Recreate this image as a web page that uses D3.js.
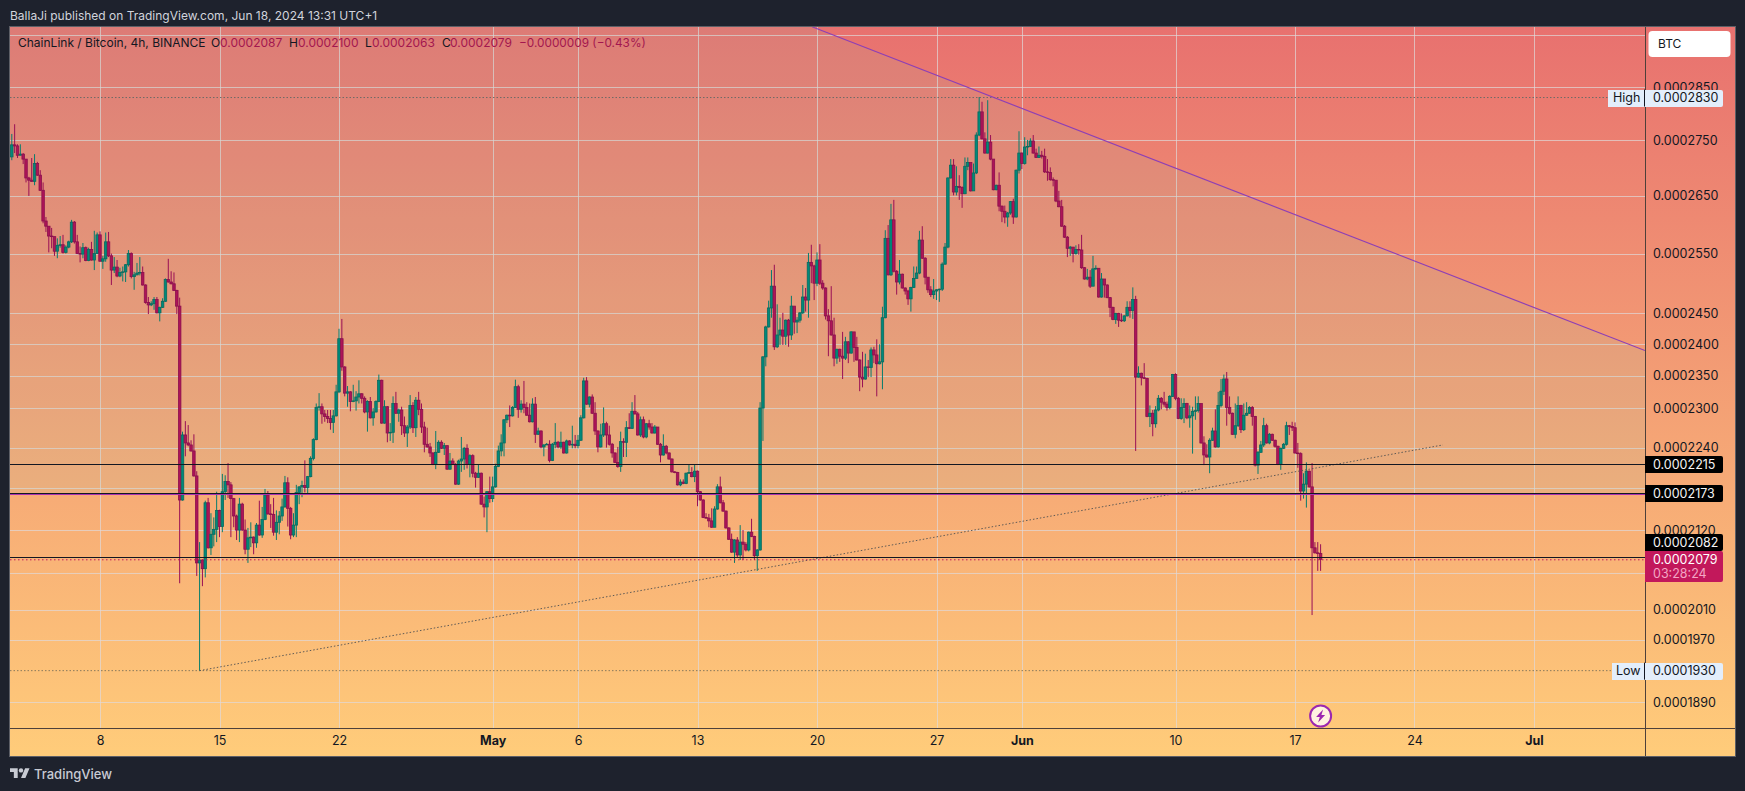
<!DOCTYPE html>
<html>
<head>
<meta charset="utf-8">
<script src="https://cdn.jsdelivr.net/npm/d3@7"></script>
<style>
  html, body { margin: 0; padding: 0; background: #1e222d; overflow: hidden; }
  text { font-family: Inter, "Noto Sans", sans-serif; }
</style>
</head>
<body>
<script>
// all prices in units of 0.0000001, 4h candles starting Apr 2 20:00 UTC
const firstOpen = 2720;

const closes = [
2742,2740,2723,2725,2716,2682,2678,2676,2708,2687,
2660,2606,2597,2580,2579,2554,2564,2565,2552,2561,
2570,2604,2570,2550,2549,2560,2538,2557,2539,2550,
2582,2537,2541,2570,2546,2522,2527,2512,2518,2519,
2531,2550,2511,2514,2517,2518,2497,2468,2464,2466,
2473,2451,2460,2470,2506,2502,2499,2488,2462,2163,
2259,2247,2244,2235,2198,2074,2078,2066,2159,2095,
2114,2121,2148,2125,2175,2190,2185,2165,2140,2120,
2157,2120,2093,2109,2110,2102,2127,2113,2135,2170,
2143,2142,2117,2131,2140,2153,2188,2151,2113,2127,
2174,2182,2184,2181,2197,2224,2252,2301,2302,2291,
2287,2284,2278,2288,2325,2409,2364,2323,2325,2310,
2311,2317,2322,2315,2294,2310,2285,2294,2310,2343,
2277,2302,2262,2263,2307,2292,2297,2273,2262,2271,
2304,2270,2312,2298,2271,2245,2241,2232,2215,2233,
2248,2239,2243,2208,2220,2215,2186,2220,2223,2239,
2215,2228,2202,2196,2202,2157,2153,2175,2165,2182,
2212,2235,2247,2282,2289,2288,2301,2333,2298,2306,
2301,2289,2279,2306,2260,2265,2241,2244,2245,2221,
2245,2248,2241,2248,2232,2250,2244,2245,2243,2251,
2285,2342,2306,2317,2292,2265,2241,2259,2276,2259,
2245,2232,2218,2212,2249,2248,2270,2269,2295,2291,
2259,2282,2256,2276,2271,2262,2271,2245,2229,2242,
2232,2223,2204,2203,2185,2189,2187,2202,2203,2197,
2205,2175,2163,2138,2137,2133,2124,2150,2182,2159,
2147,2123,2107,2089,2106,2085,2103,2100,2092,2117,
2111,2084,2092,2300,2380,2428,2459,2495,2396,2415,
2423,2413,2439,2415,2462,2436,2439,2451,2477,2472,
2535,2529,2500,2539,2500,2492,2446,2438,2415,2378,
2392,2381,2378,2404,2386,2420,2395,2375,2348,2345,
2364,2363,2391,2383,2369,2372,2443,2576,2514,2608,
2520,2502,2515,2492,2487,2474,2493,2508,2517,2573,
2542,2510,2489,2481,2487,2489,2490,2532,2561,2682,
2705,2657,2667,2665,2654,2703,2710,2659,2691,2760,
2803,2753,2727,2747,2716,2661,2669,2632,2623,2613,
2620,2640,2613,2696,2727,2708,2738,2739,2749,2727,
2719,2723,2721,2693,2692,2679,2678,2641,2631,2597,
2578,2559,2561,2550,2557,2556,2526,2507,2510,2495,
2524,2525,2477,2507,2497,2476,2460,2440,2450,2439,
2438,2446,2460,2455,2473,2348,2354,2347,2346,2287,
2292,2276,2297,2315,2309,2306,2301,2318,2352,2315,
2284,2301,2307,2285,2288,2295,2296,2307,2247,2229,
2226,2251,2265,2241,2304,2326,2345,2301,2292,2260,
2273,2304,2267,2289,2292,2301,2287,2214,2233,2244,
2273,2247,2260,2251,2242,2215,2239,2245,2273,2272,
2270,2232,2231,2176,2186,2205,2182,2095,2088,2087,2079];

const highs = [
2762,2780,2743,2743,2727,2716,2684,2718,2725,2711,
2696,2674,2613,2597,2594,2578,2576,2580,2582,2564,
2572,2608,2606,2582,2562,2568,2562,2560,2570,2589,
2586,2588,2546,2586,2587,2550,2544,2539,2526,2528,
2532,2556,2552,2519,2534,2544,2528,2498,2477,2470,
2477,2477,2461,2475,2508,2541,2520,2518,2489,2476,
2264,2280,2274,2251,2260,2205,2103,2079,2162,2166,
2144,2138,2175,2149,2201,2199,2217,2189,2166,2142,
2166,2159,2135,2123,2131,2111,2130,2162,2153,2179,
2176,2157,2166,2148,2147,2165,2198,2196,2153,2144,
2185,2183,2191,2221,2198,2227,2254,2307,2323,2307,
2297,2297,2297,2297,2336,2425,2441,2365,2334,2326,
2336,2326,2343,2323,2318,2312,2317,2300,2312,2352,
2344,2312,2303,2277,2318,2325,2299,2302,2287,2274,
2320,2309,2317,2325,2307,2279,2270,2247,2233,2265,
2251,2251,2247,2243,2232,2224,2217,2222,2256,2241,
2245,2230,2230,2204,2215,2203,2168,2176,2197,2197,
2216,2243,2260,2283,2290,2304,2303,2344,2336,2312,
2342,2309,2307,2315,2317,2270,2266,2245,2247,2251,
2247,2277,2250,2264,2249,2252,2251,2273,2259,2259,
2289,2347,2348,2318,2321,2309,2266,2276,2301,2279,
2273,2247,2233,2241,2264,2254,2280,2292,2309,2320,
2294,2287,2287,2277,2282,2277,2274,2271,2247,2260,
2244,2233,2224,2205,2204,2193,2193,2203,2215,2211,
2215,2206,2176,2164,2144,2143,2151,2154,2186,2197,
2163,2148,2124,2115,2107,2110,2127,2120,2103,2118,
2136,2112,2093,2309,2381,2430,2471,2522,2531,2465,
2443,2451,2440,2441,2479,2461,2444,2452,2497,2492,
2551,2565,2531,2552,2566,2505,2493,2457,2495,2443,
2393,2393,2420,2412,2405,2421,2411,2412,2376,2388,
2385,2375,2395,2396,2408,2400,2461,2590,2599,2636,
2643,2522,2539,2516,2493,2489,2494,2528,2528,2589,
2597,2544,2508,2495,2507,2490,2491,2535,2568,2683,
2716,2716,2703,2687,2667,2719,2719,2708,2708,2765,
2831,2822,2765,2825,2760,2715,2670,2692,2633,2633,
2622,2641,2645,2697,2767,2728,2756,2751,2754,2760,
2735,2739,2731,2735,2716,2701,2683,2676,2659,2643,
2599,2580,2563,2561,2564,2566,2582,2527,2524,2522,
2546,2530,2525,2517,2507,2498,2477,2461,2451,2451,
2450,2447,2470,2470,2493,2479,2365,2355,2370,2347,
2304,2297,2303,2320,2317,2325,2310,2320,2353,2354,
2317,2315,2315,2308,2304,2302,2318,2318,2306,2257,
2245,2254,2270,2298,2325,2345,2352,2356,2318,2293,
2307,2318,2305,2307,2309,2303,2303,2288,2235,2250,
2285,2276,2262,2261,2252,2243,2240,2247,2279,2274,
2279,2278,2247,2233,2202,2218,2206,2217,2103,2103,2100];

const lows = [
2714,2727,2718,2723,2707,2674,2650,2675,2669,2686,
2659,2602,2587,2552,2559,2546,2542,2560,2550,2550,
2559,2568,2567,2549,2535,2542,2537,2537,2538,2522,
2549,2536,2524,2536,2544,2497,2517,2510,2510,2503,
2502,2528,2508,2489,2513,2513,2496,2466,2449,2462,
2456,2450,2437,2459,2469,2501,2498,2487,2449,2046,
2162,2227,2242,2234,2197,2056,1930,2042,2054,2094,
2085,2097,2103,2110,2117,2163,2166,2110,2124,2106,
2103,2119,2086,2074,2096,2086,2095,2112,2109,2134,
2142,2123,2112,2106,2114,2133,2152,2125,2107,2110,
2110,2157,2167,2174,2172,2196,2221,2251,2296,2276,
2279,2277,2267,2262,2287,2323,2358,2318,2302,2295,
2309,2296,2307,2307,2292,2264,2284,2273,2293,2309,
2276,2276,2248,2250,2247,2291,2279,2259,2256,2241,
2268,2262,2256,2289,2262,2233,2240,2226,2214,2208,
2232,2238,2229,2207,2207,2214,2185,2185,2204,2207,
2209,2196,2196,2181,2195,2156,2138,2117,2159,2160,
2181,2211,2227,2227,2277,2271,2287,2300,2285,2293,
2292,2288,2278,2278,2247,2259,2239,2227,2244,2218,
2220,2239,2239,2238,2231,2231,2243,2239,2239,2239,
2250,2284,2305,2301,2291,2259,2233,2240,2256,2240,
2243,2225,2217,2210,2204,2226,2226,2268,2268,2290,
2258,2256,2254,2254,2267,2261,2261,2244,2218,2228,
2230,2222,2203,2202,2184,2183,2186,2186,2201,2196,
2189,2154,2162,2137,2136,2124,2123,2124,2149,2158,
2146,2122,2106,2088,2074,2082,2078,2078,2090,2090,
2110,2078,2063,2091,2250,2365,2427,2443,2391,2394,
2399,2399,2399,2396,2407,2417,2418,2435,2449,2453,
2443,2500,2472,2495,2497,2489,2440,2381,2414,2365,
2369,2372,2345,2375,2370,2385,2372,2374,2326,2332,
2344,2348,2348,2370,2318,2368,2329,2442,2513,2512,
2518,2481,2498,2491,2481,2464,2453,2492,2510,2515,
2541,2498,2484,2477,2474,2472,2469,2487,2531,2559,
2681,2651,2651,2643,2629,2653,2696,2658,2660,2689,
2758,2752,2726,2726,2714,2660,2660,2623,2604,2602,
2596,2617,2601,2612,2690,2698,2706,2723,2738,2726,
2718,2718,2717,2691,2677,2677,2667,2639,2630,2596,
2577,2544,2546,2535,2548,2548,2524,2506,2505,2492,
2495,2522,2476,2476,2476,2475,2444,2439,2433,2428,
2436,2436,2445,2443,2441,2235,2347,2335,2345,2286,
2271,2257,2270,2295,2298,2302,2296,2298,2317,2312,
2283,2282,2277,2283,2270,2231,2282,2293,2246,2214,
2225,2202,2250,2240,2240,2301,2320,2273,2290,2259,
2254,2271,2262,2265,2288,2291,2273,2212,2201,2232,
2241,2246,2245,2250,2240,2214,2207,2238,2243,2259,
2265,2231,2210,2162,2165,2152,2181,2003,2087,2063,2063];

// axis ticks, some grid lines have their label covered by a tag in the picture
const gridPrices = [2950,2850,2750,2650,2550,2450,2400,2350,2300,2240,2180,2120,2060,2010,1970,1890];
const priceTicks = [2850,2750,2650,2550,2450,2400,2350,2300,2240,2120,2010,1970,1890];
const dateTicks = ["2024-04-08","2024-04-15","2024-04-22","2024-05-01","2024-05-06","2024-05-13","2024-05-20","2024-05-27","2024-06-01","2024-06-10","2024-06-17","2024-06-24","2024-07-01"];
const dateLabels = ["8","15","22","May","6","13","20","27","Jun","10","17","24","Jul"];
const monthLabels = ["May","Jun","Jul"];

// drawings on the chart
const levelPrices = [2215,2173,2082];
const lastPrice = 2079;
const highPrice = 2830;
const lowPrice = 1930;
const resistanceDates = ["2024-05-19T17:00Z","2024-07-07T12:00Z"];
const resistancePrices = [2967,2390];
const supportDates = ["2024-04-13T20:00Z","2024-06-25T16:00Z"];
const supportPrices = [1930,2244];

const fmt = function(p) { return (p * 1e-7).toFixed(7); };
const startTime = Date.UTC(2024, 3, 2, 20);
const fourHours = 4 * 3600 * 1000;

// frame of the chart
const W = 1745, H = 791;
const left = 10, right = 1735, top_ = 27, bottom = 756;
const paneRight = 1645, paneBottom = 728;

const svg = d3.select("body").append("svg")
    .attr("width", W)
    .attr("height", H)
    .style("display", "block");

const defs = svg.append("defs");
const grad = defs.append("linearGradient")
    .attr("id", "bg")
    .attr("gradientUnits", "userSpaceOnUse")
    .attr("x1", 0).attr("x2", 0)
    .attr("y1", top_).attr("y2", bottom);
grad.append("stop").attr("offset", 0).attr("stop-color", "#e8716f");
grad.append("stop").attr("offset", 1).attr("stop-color", "#ffcc7a");

defs.append("clipPath").attr("id", "pane")
  .append("rect")
    .attr("x", left).attr("y", top_)
    .attr("width", paneRight - left).attr("height", paneBottom - top_);

// scales, the price axis is logarithmic
const x = d3.scaleUtc()
    .domain([new Date("2024-04-08"), new Date("2024-07-01")])
    .range([100, 1534]);
const y = d3.scaleLog()
    .domain([2850, 1890])
    .range([87, 702]);

svg.append("rect")
    .attr("x", left).attr("y", top_)
    .attr("width", right - left).attr("height", bottom - top_)
    .attr("fill", "url(#bg)");

const pane = svg.append("g").attr("clip-path", "url(#pane)");

// grid
pane.selectAll(".hgrid").data(gridPrices).enter().append("line")
    .attr("x1", left).attr("x2", paneRight)
    .attr("y1", d => Math.round(y(d)) + 0.5).attr("y2", d => Math.round(y(d)) + 0.5)
    .attr("stroke", "#e0d8d8").attr("stroke-opacity", 0.7).attr("stroke-width", 1);
pane.selectAll(".vgrid").data(dateTicks).enter().append("line")
    .attr("x1", d => Math.round(x(new Date(d))) + 0.5).attr("x2", d => Math.round(x(new Date(d))) + 0.5)
    .attr("y1", top_).attr("y2", paneBottom)
    .attr("stroke", "#e0d8d8").attr("stroke-opacity", 0.7).attr("stroke-width", 1);

// tinted band between the falling line and the horizontal level
const band = d3.area()
    .x(d => x(new Date(d.date)))
    .y0(y(2173) + 1)
    .y1(d => y(d.price));
const bandData = [
    {date: "2024-04-01", price: 2967},
    {date: resistanceDates[0], price: resistancePrices[0]},
    {date: resistanceDates[1], price: resistancePrices[1]}
];
pane.append("path")
    .attr("d", band(bandData))
    .attr("fill", "rgb(130,214,190)")
    .attr("fill-opacity", 0.1);

// dotted high / low lines
pane.append("line")
    .attr("x1", left).attr("x2", 1608)
    .attr("y1", y(highPrice)).attr("y2", y(highPrice))
    .attr("stroke", "#6f6a66").attr("stroke-dasharray", "1.5 2");
pane.append("line")
    .attr("x1", left).attr("x2", 1612)
    .attr("y1", y(lowPrice)).attr("y2", y(lowPrice))
    .attr("stroke", "#8a7a5c").attr("stroke-dasharray", "1.5 2");

// candles
const candles = closes.map(function(c, i) {
    return {
        t: new Date(startTime + i * fourHours),
        o: i === 0 ? firstOpen : closes[i - 1],
        h: highs[i],
        l: lows[i],
        c: c
    };
});
const up = d => d.c >= d.o;

pane.selectAll(".wick").data(candles).enter().append("line")
    .attr("x1", d => x(d.t)).attr("x2", d => x(d.t))
    .attr("y1", d => y(d.h)).attr("y2", d => y(d.l))
    .attr("stroke", d => up(d) ? "#067d6d" : "#990f55")
    .attr("stroke-width", 1);

pane.selectAll(".body").data(candles).enter().append("rect")
    .attr("x", d => x(d.t) - 1.25)
    .attr("width", 2.5)
    .attr("y", d => Math.min(y(d.o), y(d.c)))
    .attr("height", d => Math.max(Math.abs(y(d.o) - y(d.c)), 0.6))
    .attr("fill", d => up(d) ? "#00897b" : "#ad1457")
    .attr("stroke", d => up(d) ? "#0a6a5e" : "#8a0f4e")
    .attr("stroke-width", 0.8);

// trend lines
pane.append("line")
    .attr("x1", x(new Date(resistanceDates[0]))).attr("y1", y(resistancePrices[0]))
    .attr("x2", x(new Date(resistanceDates[1]))).attr("y2", y(resistancePrices[1]))
    .attr("stroke", "#8e3fb5").attr("stroke-width", 1.1);
pane.append("line")
    .attr("x1", x(new Date(supportDates[0]))).attr("y1", y(supportPrices[0]))
    .attr("x2", x(new Date(supportDates[1]))).attr("y2", y(supportPrices[1]))
    .attr("stroke", "#5f5a55").attr("stroke-width", 1).attr("stroke-dasharray", "1.5 2");

// horizontal levels
pane.append("line")
    .attr("x1", left).attr("x2", paneRight)
    .attr("y1", Math.round(y(2173)) + 1.5).attr("y2", Math.round(y(2173)) + 1.5)
    .attr("stroke", "#a832b0").attr("stroke-width", 1.2);
pane.selectAll(".level").data(levelPrices).enter().append("line")
    .attr("x1", left).attr("x2", paneRight)
    .attr("y1", d => Math.round(y(d)) + 0.5).attr("y2", d => Math.round(y(d)) + 0.5)
    .attr("stroke", "#131722").attr("stroke-width", 1);
pane.append("line")
    .attr("x1", left).attr("x2", paneRight)
    .attr("y1", y(lastPrice) + 0.5).attr("y2", y(lastPrice) + 0.5)
    .attr("stroke", "#c2185b").attr("stroke-dasharray", "1.5 2.5");

// lightning marker under the last candles
const marker = pane.append("g")
    .attr("transform", "translate(" + x(candles[candles.length - 1].t) + ",716)");
marker.append("circle").attr("r", 10.5)
    .attr("fill", "#fff3e0").attr("stroke", "#9c27b0").attr("stroke-width", 2);
marker.append("path")
    .attr("d", "M2.5 -6.5 L-4.5 1 L-0.8 1 L-2.5 6.5 L4.5 -1 L0.8 -1 Z")
    .attr("fill", "#9c27b0");

// price axis
const yAxis = svg.append("g")
    .attr("transform", "translate(" + paneRight + ",0)")
    .call(d3.axisRight(y).tickValues(priceTicks).tickFormat(fmt).tickSize(0).tickPadding(8));
yAxis.select(".domain").remove();
yAxis.selectAll("text")
    .attr("font-size", 12.5)
    .attr("font-family", "Inter")
    .attr("fill", "#131722");

// time axis
const xAxis = svg.append("g")
    .attr("transform", "translate(0," + paneBottom + ")")
    .call(d3.axisBottom(x)
        .tickValues(dateTicks.map(d => new Date(d)))
        .tickFormat((d, i) => dateLabels[i])
        .tickSize(0).tickPadding(8));
xAxis.select(".domain").remove();
xAxis.selectAll("text")
    .attr("font-size", 12.5)
    .attr("font-family", "Inter")
    .attr("fill", "#131722")
    .attr("font-weight", (d, i) => monthLabels.indexOf(dateLabels[i]) >= 0 ? 700 : 400);

// separators and outer frame
svg.append("line").attr("x1", paneRight + 0.5).attr("x2", paneRight + 0.5)
    .attr("y1", top_).attr("y2", bottom).attr("stroke", "#4d403a");
svg.append("line").attr("x1", left).attr("x2", right)
    .attr("y1", paneBottom + 0.5).attr("y2", paneBottom + 0.5).attr("stroke", "#4d403a");
svg.append("rect")
    .attr("x", left - 0.5).attr("y", top_ - 0.5)
    .attr("width", right - left + 1).attr("height", bottom - top_ + 1)
    .attr("fill", "none").attr("stroke", "#5d5f66");

// price tags on the axis
function tag(boxX, boxW, boxY, boxH, fill) {
    svg.append("path")
        .attr("d", "M" + boxX + " " + boxY + "h" + (boxW - 2) + "q2 0 2 2v" + (boxH - 4) + "q0 2 -2 2h-" + (boxW - 2) + "z")
        .attr("fill", fill);
}
function tagText(str, tx, ty, fill, size) {
    svg.append("text")
        .attr("x", tx).attr("y", ty)
        .attr("dy", "0.35em")
        .attr("font-size", size || 12.5)
        .attr("font-family", "Inter")
        .attr("fill", fill)
        .text(str);
}

tag(1608, 115, Math.round(y(highPrice)) - 8, 17, "#e3eefb");
tagText("High", 1613, y(highPrice), "#131722");
tagText(fmt(highPrice), 1653, y(highPrice), "#131722");
svg.append("line").attr("x1", 1644.5).attr("x2", 1644.5)
    .attr("y1", y(highPrice) - 8).attr("y2", y(highPrice) + 9).attr("stroke", "#131722");

tag(1612, 111, Math.round(y(lowPrice)) - 8, 17, "#e3eefb");
tagText("Low", 1616, y(lowPrice), "#131722");
tagText(fmt(lowPrice), 1653, y(lowPrice), "#131722");
svg.append("line").attr("x1", 1644.5).attr("x2", 1644.5)
    .attr("y1", y(lowPrice) - 8).attr("y2", y(lowPrice) + 9).attr("stroke", "#131722");

// the 0.0002082 tag is pushed up by the last price tag below it
const levelOffsets = [0, 0, -15];
levelPrices.forEach(function(p, i) {
    const cy = Math.round(y(p)) + levelOffsets[i];
    tag(1645, 78, cy - 8, 17, "#000000");
    tagText(fmt(p), 1653, cy + 0.5, "#f5f5f5");
});

tag(1645, 78, 551, 31, "#c2185b");
tagText(fmt(lastPrice), 1653, 560, "#ffffff");
tagText("03:28:24", 1653, 574, "#f3a6c4");

// currency button
svg.append("rect")
    .attr("x", 1648.5).attr("y", 31).attr("width", 82).attr("height", 26).attr("rx", 4)
    .attr("fill", "#ffffff");
svg.append("text").attr("x", 1658).attr("y", 44).attr("dy", "0.35em")
    .attr("font-size", 12).attr("fill", "#131722").text("BTC");

// legend line
const legendUp = "#131722", legendVal = "#a3174f";
const legend = [
    ["ChainLink / Bitcoin, 4h, BINANCE", 18, legendUp],
    ["O", 211, legendUp], ["0.0002087", 220, legendVal],
    ["H", 289, legendUp], ["0.0002100", 298, legendVal],
    ["L", 365, legendUp], ["0.0002063", 372, legendVal],
    ["C", 442, legendUp], ["0.0002079", 450, legendVal],
    ["\u22120.0000009 (\u22120.43%)", 519, legendVal]
];
svg.selectAll(".legend").data(legend).enter().append("text")
    .attr("x", d => d[1]).attr("y", 43).attr("dy", "0.35em")
    .attr("font-size", d => d[0].length > 12 && d[1] > 100 ? 11.8 : 12)
    .attr("fill", d => d[2])
    .text(d => d[0]);

// header and footer
svg.append("text").attr("x", 10).attr("y", 15.5).attr("dy", "0.35em")
    .attr("font-size", 12).attr("fill", "#d1d4dc")
    .text("BallaJi published on TradingView.com, Jun 18, 2024 13:31 UTC+1");

const logo = svg.append("g").attr("transform", "translate(10,766) scale(0.55)").attr("fill", "#c8cbd3");
logo.append("path").attr("d", "M14 22H7V11H0V4h14v18zM28 22h-8l7.5-18h8L28 22z");
logo.append("circle").attr("cx", 20).attr("cy", 8).attr("r", 4);
svg.append("text").attr("x", 34).attr("y", 774.5).attr("dy", "0.35em")
    .attr("font-size", 13).attr("font-weight", 500).attr("fill", "#c8cbd3").text("TradingView");
</script>
</body>
</html>
